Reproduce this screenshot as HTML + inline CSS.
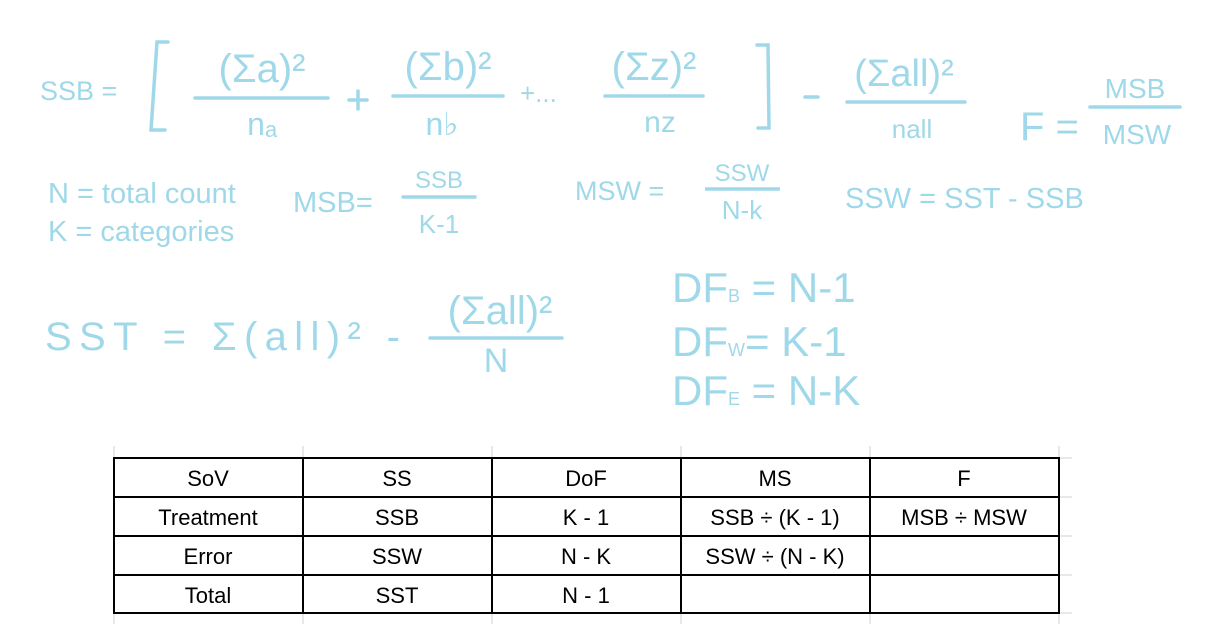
<!DOCTYPE html>
<html><head><meta charset="utf-8"><style>
html,body{margin:0;padding:0;background:#fff;width:1214px;height:638px;overflow:hidden}
svg{display:block}
.h{fill:#9fd9e9;font-family:"Liberation Sans",sans-serif}
.t{fill:#000;font-family:"Liberation Sans",sans-serif;font-size:22px;text-anchor:middle}
</style></head><body>
<svg width="1214" height="638" viewBox="0 0 1214 638">
<g stroke="#9fd9e9" stroke-width="3.5" fill="none" stroke-linecap="round">
<path d="M168 42 L157 42 L151 130 L165 130"/>
<path d="M757 45 L768 45 L769 128 L758 128"/>
<line x1="195" y1="98" x2="328" y2="98"/>
<line x1="393" y1="96" x2="503" y2="96"/>
<line x1="605" y1="96" x2="703" y2="96"/>
<line x1="847" y1="102" x2="965" y2="102"/>
<line x1="1090" y1="107" x2="1180" y2="107"/>
<line x1="403" y1="197" x2="475" y2="197"/>
<line x1="430" y1="338" x2="562" y2="338"/>
<line x1="349" y1="100" x2="367" y2="100"/><line x1="358" y1="91" x2="358" y2="109"/>
<line x1="805" y1="97" x2="818" y2="97"/>
</g>
<text class="h" x="40" y="100" font-size="27">SSB =</text>
<text class="h" x="262" y="82" font-size="40" text-anchor="middle">(Σa)²</text>
<text class="h" x="262" y="135" font-size="32" text-anchor="middle">nₐ</text>
<text class="h" x="448" y="80" font-size="40" text-anchor="middle">(Σb)²</text>
<text class="h" x="442" y="135" font-size="32" text-anchor="middle">n♭</text>
<text class="h" x="520" y="102" font-size="26">+...</text>
<text class="h" x="654" y="80" font-size="40" text-anchor="middle">(Σz)²</text>
<text class="h" x="660" y="132" font-size="30" text-anchor="middle">nz</text>
<text class="h" x="904" y="86" font-size="38" text-anchor="middle">(Σall)²</text>
<text class="h" x="912" y="138" font-size="26" text-anchor="middle">nall</text>
<text class="h" x="1020" y="140" font-size="40">F =</text>
<text class="h" x="1135" y="98" font-size="28" text-anchor="middle">MSB</text>
<text class="h" x="1137" y="144" font-size="28" text-anchor="middle">MSW</text>
<text class="h" x="48" y="203" font-size="29">N = total count</text>
<text class="h" x="48" y="241" font-size="29">K = categories</text>
<text class="h" x="293" y="212" font-size="29">MSB=</text>
<text class="h" x="439" y="188" font-size="24" text-anchor="middle">SSB</text>
<text class="h" x="439" y="233" font-size="26" text-anchor="middle">K-1</text>
<text class="h" x="575" y="200" font-size="27">MSW =</text>
<text class="h" x="742" y="181" font-size="24" text-anchor="middle">SSW</text>
<line x1="705" y1="189" x2="780" y2="189" stroke="#9fd9e9" stroke-width="3.5"/>
<text class="h" x="742" y="219" font-size="26" text-anchor="middle">N-k</text>
<text class="h" x="845" y="208" font-size="29">SSW = SST - SSB</text>
<text class="h" x="45" y="350" font-size="40" textLength="355" lengthAdjust="spacing">SST = Σ(all)² -</text>
<text class="h" x="500" y="324" font-size="40" text-anchor="middle">(Σall)²</text>
<text class="h" x="496" y="372" font-size="34" text-anchor="middle">N</text>
<text class="h" x="672" y="302" font-size="42">DF<tspan font-size="18">B</tspan> = N-1</text>
<text class="h" x="672" y="356" font-size="42">DF<tspan font-size="18">W</tspan>= K-1</text>
<text class="h" x="672" y="405" font-size="42">DF<tspan font-size="18">E</tspan> = N-K</text>
<g stroke="#e0e0e0" stroke-width="1.5">
<line x1="114" y1="446" x2="114" y2="624"/><line x1="303" y1="446" x2="303" y2="624"/><line x1="492" y1="446" x2="492" y2="624"/><line x1="681" y1="446" x2="681" y2="624"/><line x1="870" y1="446" x2="870" y2="624"/><line x1="1059" y1="446" x2="1059" y2="624"/>
<line x1="1059" y1="458" x2="1072" y2="458"/><line x1="1059" y1="497" x2="1072" y2="497"/><line x1="1059" y1="536" x2="1072" y2="536"/><line x1="1059" y1="575" x2="1072" y2="575"/><line x1="1059" y1="613" x2="1072" y2="613"/>
</g>
<g stroke="#000" stroke-width="2">
<rect x="114" y="458" width="945" height="155" fill="none"/>
<line x1="114" y1="497" x2="1059" y2="497"/><line x1="114" y1="536" x2="1059" y2="536"/><line x1="114" y1="575" x2="1059" y2="575"/>
<line x1="303" y1="458" x2="303" y2="613"/><line x1="492" y1="458" x2="492" y2="613"/><line x1="681" y1="458" x2="681" y2="613"/><line x1="870" y1="458" x2="870" y2="613"/>
</g>
<text class="t" x="208" y="486">SoV</text><text class="t" x="397" y="486">SS</text><text class="t" x="586" y="486">DoF</text><text class="t" x="775" y="486">MS</text><text class="t" x="964" y="486">F</text>
<text class="t" x="208" y="525">Treatment</text><text class="t" x="397" y="525">SSB</text><text class="t" x="586" y="525">K - 1</text><text class="t" x="775" y="525">SSB ÷ (K - 1)</text><text class="t" x="964" y="525">MSB ÷ MSW</text>
<text class="t" x="208" y="564">Error</text><text class="t" x="397" y="564">SSW</text><text class="t" x="586" y="564">N - K</text><text class="t" x="775" y="564">SSW ÷ (N - K)</text>
<text class="t" x="208" y="603">Total</text><text class="t" x="397" y="603">SST</text><text class="t" x="586" y="603">N - 1</text>
</svg>
</body></html>
